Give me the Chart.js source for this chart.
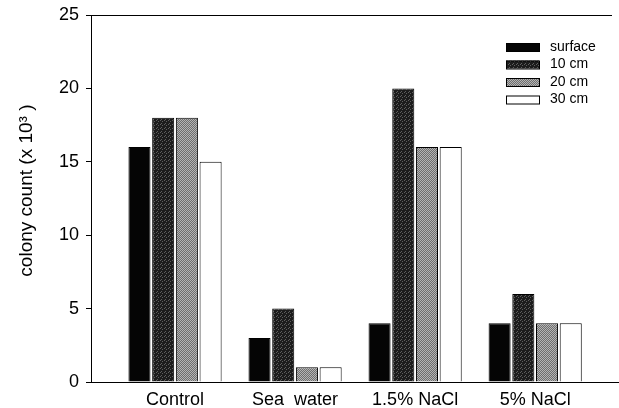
<!DOCTYPE html>
<html>
<head>
<meta charset="utf-8">
<script src="https://cdn.jsdelivr.net/npm/chart.js@4/dist/chart.umd.min.js"></script>
<style>
  body { margin: 0; background: #fff; }
</style>
</head>
<body>
<canvas id="colonyChart" width="619" height="408"></canvas>
<script>
// data
const categories = ["Control", "Sea  water", "1.5% NaCl", "5% NaCl"];
const seriesNames = ["surface", "10 cm", "20 cm", "30 cm"];
const surface = [16, 3, 4, 4];
const cm10 = [18, 5, 20, 6];
const cm20 = [18, 1, 16, 4];
const cm30 = [15, 1, 16, 4];
const yTicks = [0, 5, 10, 15, 20, 25];

const FONT = "Arial, 'Liberation Sans', sans-serif";

// small stipple textures for the grey bars
function stipple(base, dot, cells) {
  const c = document.createElement("canvas");
  c.width = 4; c.height = 4;
  const g = c.getContext("2d");
  g.fillStyle = base;
  g.fillRect(0, 0, 4, 4);
  g.fillStyle = dot;
  cells.forEach(p => g.fillRect(p[0], p[1], 1, 1));
  return g.createPattern(c, "repeat");
}
const ctx = document.getElementById("colonyChart").getContext("2d");
const fills = [
  "#050505",
  stipple("#1c1c1c", "#5e5e5e", [[0, 0], [2, 1], [1, 3]]),
  stipple("#6e6e6e", "#b4b4b4", [[0, 0], [2, 0], [1, 1], [3, 1], [0, 2], [2, 2], [1, 3], [3, 3]]),
  "#ffffff"
];
const allSeries = [surface, cm10, cm20, cm30];

const datasets = allSeries.map((vals, s) => ({
  label: seriesNames[s],
  data: vals.map((v, i) => ({ x: i + 1, y: v })),
  backgroundColor: fills[s],
  borderColor: "#000",
  borderWidth: 1,
  categoryPercentage: 0.79,
  barPercentage: 0.93
}));

const frame = {
  id: "frame",
  afterDraw(chart) {
    const { ctx, chartArea: a } = chart;
    ctx.save();
    ctx.strokeStyle = "#000";
    ctx.lineWidth = 1;
    ctx.beginPath();
    ctx.moveTo(a.left - 5, a.top + 0.5);
    ctx.lineTo(a.right, a.top + 0.5);
    ctx.moveTo(a.right, a.bottom + 0.5);
    ctx.lineTo(chart.width, a.bottom + 0.5);
    ctx.stroke();
    // legend
    ctx.font = "14px " + FONT;
    ctx.textBaseline = "middle";
    chart.data.datasets.forEach((ds, i) => {
      const y = 43 + i * 17.5;
      ctx.fillStyle = ds.backgroundColor;
      ctx.fillRect(506, y, 33, 8);
      ctx.strokeRect(506.5, y + 0.5, 33, 8);
      ctx.fillStyle = "#000";
      ctx.fillText(ds.label, 550, y + 4);
    });
    ctx.restore();
  }
};

new Chart(ctx, {
  type: "bar",
  data: { datasets },
  options: {
    responsive: false,
    devicePixelRatio: 1,
    animation: false,
    layout: { padding: { top: 15, right: 7, left: 0, bottom: 0 } },
    plugins: {
      legend: { display: false },
      tooltip: { enabled: false }
    },
    scales: {
      x: {
        type: "linear",
        offset: false,
        min: 0.3,
        max: 4.64,
        afterBuildTicks: s => { s.ticks = categories.map((c, i) => ({ value: i + 1 })); },
        afterFit: s => { s.height = 26; s.paddingLeft = 0; s.paddingRight = 0; },
        grid: { display: true, offset: false, drawOnChartArea: false, drawTicks: false },
        border: { display: true, color: "#000" },
        ticks: {
          padding: 7,
          color: "#000",
          font: { size: 18, family: FONT },
          maxRotation: 0,
          autoSkip: false,
          callback: v => categories[v - 1]
        }
      },
      y: {
        min: 0,
        max: 25,
        afterBuildTicks: s => { s.ticks = yTicks.map(v => ({ value: v })); },
        afterFit: s => { s.width = 91; s.paddingTop = 0; s.paddingBottom = 0; },
        grid: { display: true, drawOnChartArea: false, drawTicks: true, tickLength: 5, color: "#000" },
        border: { display: true, color: "#000" },
        ticks: {
          padding: 7,
          color: "#000",
          font: { size: 18, family: FONT }
        },
        title: {
          display: true,
          text: "   colony count (x 10³ )",
          color: "#000",
          font: { size: 19, family: FONT },
          padding: { top: 15, bottom: 0 }
        }
      }
    }
  },
  plugins: [frame]
});
</script>
</body>
</html>
